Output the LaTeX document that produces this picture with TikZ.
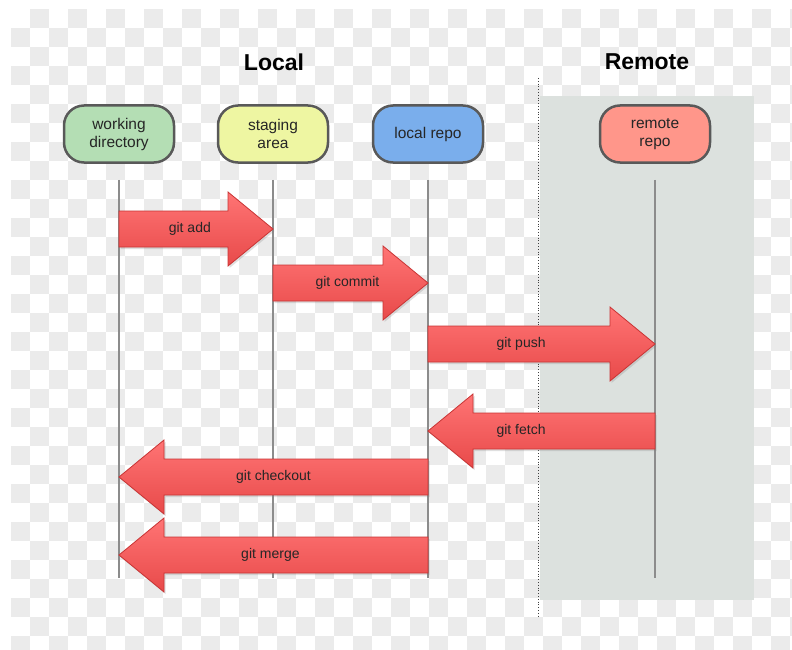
\documentclass[tikz,border=0pt]{standalone}
\usepackage{fontspec}
\setmainfont{Liberation Sans}
\usetikzlibrary{calc,shadows}

\definecolor{wdgreen}{HTML}{B4DEB4}
\definecolor{sayellow}{HTML}{EEF6A2}
\definecolor{lrblue}{HTML}{7AAEEC}
\definecolor{rrred}{HTML}{FF968A}
\definecolor{panelgray}{HTML}{DCE1DE}
\definecolor{checkgray}{HTML}{EBEBEB}
\definecolor{arrowtop}{HTML}{FF7474}
\definecolor{arrowbot}{HTML}{E84A4A}
\definecolor{arrowline}{HTML}{C83434}

\tikzset{
  area/.style={draw=black!65, line width=2.5pt, rounded corners=20pt,
    minimum width=110pt, minimum height=57pt, align=center,
    font=\fontsize{15.5}{18}\selectfont, text=black!85},
  lifeline/.style={draw=black!45, line width=2.8pt},
  cmdarrow/.style={draw=arrowline, line width=0.8pt, top color=arrowtop,
    bottom color=arrowbot,
    drop shadow={shadow xshift=1.5pt, shadow yshift=-2pt, opacity=0.25}},
  cmdlabel/.style={font=\fontsize{14}{16}\selectfont, text=black!85},
  title/.style={font=\fontsize{23}{26}\selectfont\bfseries},
}

% fat arrow between two lifeline points: name, from, to, text, label pos
\newcommand{\gitcmd}[5]{%
  \coordinate (#1-base) at ($(#3)!45pt!(#2)$);
  \draw[cmdarrow] ($(#2)+(0,-18)$) -- ($(#1-base)+(0,-18)$) -- ($(#1-base)+(0,-37)$)
    -- (#3) -- ($(#1-base)+(0,37)$) -- ($(#1-base)+(0,18)$) -- ($(#2)+(0,18)$) -- cycle;
  \node[cmdlabel] (#1) at ($(#2)!#5!(#3)$) {#4};
}

\begin{document}
\begin{tikzpicture}[x=1pt,y=-1pt]
  \useasboundingbox (0,0) rectangle (792,650);
  \fill[white] (0,0) rectangle (792,650);
  \foreach \i in {0,...,41} {
    \foreach \j in {0,...,33} {
      \ifodd\numexpr\i+\j\relax
        \fill[checkgray] (11+19*\i,9+19*\j) rectangle ++(19,19);
      \fi
    }
  }
  \fill[panelgray] (540,96) rectangle (754,600); % remote side
  \draw[black!75, dotted, line width=0.8pt] (538,78) -- (538,616);

  \node[title] (local) at (274,62) {Local};
  \node[title] (remote) at (647,62) {Remote};

  \node[area, fill=wdgreen] (wd) at (119,134) {working\\directory};
  \node[area, fill=sayellow] (sa) at (273,134) {staging\\area};
  \node[area, fill=lrblue] (lr) at (428,134) {local repo};
  \node[area, fill=rrred] (rr) at (655,134) {remote\\repo};

  \coordinate (wd-end) at (119,578);
  \coordinate (sa-end) at (273,578);
  \coordinate (lr-end) at (428,578);
  \coordinate (rr-end) at (655,578);
  \foreach \n in {wd,sa,lr,rr} {
    \draw[lifeline] ([yshift=-16pt]\n.south) -- (\n-end);
  }

  \coordinate (wd-add) at (119,229);
  \coordinate (sa-add) at (273,229);
  \coordinate (sa-commit) at (273,283);
  \coordinate (lr-commit) at (428,283);
  \coordinate (lr-push) at (428,344);
  \coordinate (rr-push) at (655,344);
  \coordinate (rr-fetch) at (655,431);
  \coordinate (lr-fetch) at (428,431);
  \coordinate (lr-checkout) at (428,477);
  \coordinate (wd-checkout) at (119,477);
  \coordinate (lr-merge) at (428,555);
  \coordinate (wd-merge) at (119,555);

  \gitcmd{add}{wd-add}{sa-add}{git add}{0.46}
  \gitcmd{commit}{sa-commit}{lr-commit}{git commit}{0.48}
  \gitcmd{push}{lr-push}{rr-push}{git push}{0.41}
  \gitcmd{fetch}{rr-fetch}{lr-fetch}{git fetch}{0.59}
  \gitcmd{checkout}{lr-checkout}{wd-checkout}{git checkout}{0.5}
  \gitcmd{merge}{lr-merge}{wd-merge}{git merge}{0.51}
\end{tikzpicture}
\end{document}
